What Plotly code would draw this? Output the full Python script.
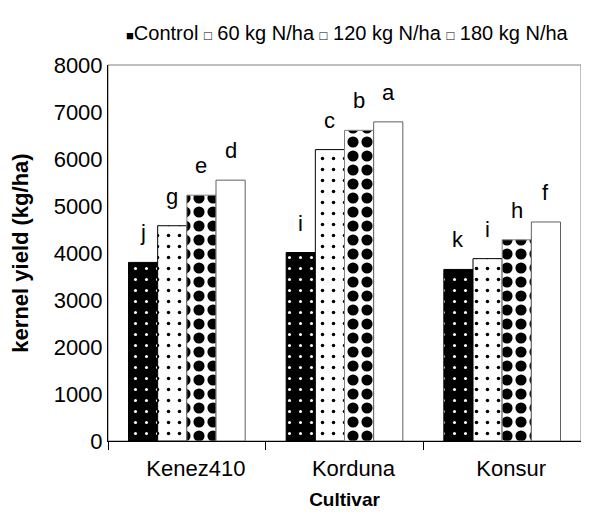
import plotly.graph_objects as go

cultivars = ["Kenez410", "Korduna", "Konsur"]
control = [3800, 4010, 3650]
n60 = [4580, 6200, 3880]
n120 = [5230, 6610, 4280]
n180 = [5550, 6790, 4660]
letters_control = ["j", "i", "k"]
letters_n60 = ["g", "c", "i"]
letters_n120 = ["e", "b", "h"]
letters_n180 = ["d", "a", "f"]
series_names = ["Control", "60 kg N/ha", "120 kg N/ha", "180 kg N/ha"]
legend_marks = ["■", "□", "□", "□"]
y_ticks = [0, 1000, 2000, 3000, 4000, 5000, 6000, 7000, 8000]

FONT = "Liberation Sans, Arial, sans-serif"
BARGAP = 0.26
W, H = 589, 523
ML, MR, MT, MB = 100, 16, 57, 90

fig = go.Figure()
styles = [
    dict(marker=dict(color="black", line=dict(color="black", width=1),
                     pattern=dict(shape=".", bgcolor="black", fgcolor="white", fgopacity=1,
                                  size=11, solidity=0.06))),
    dict(marker=dict(color="white", line=dict(color="black", width=1),
                     pattern=dict(shape=".", bgcolor="white", fgcolor="black", fgopacity=1,
                                  size=11, solidity=0.08))),
    dict(marker=dict(color="white", line=dict(color="#808080", width=1),
                     pattern=dict(shape=".", bgcolor="white", fgcolor="black", fgopacity=1,
                                  size=14, solidity=0.5))),
    dict(marker=dict(color="white", line=dict(color="#606060", width=1))),
]
all_vals = [control, n60, n120, n180]
all_letters = [letters_control, letters_n60, letters_n120, letters_n180]
for name, vals, st in zip(series_names, all_vals, styles):
    fig.add_trace(go.Bar(x=cultivars, y=vals, name=name, showlegend=False, **st))

# letters above bars, positioned from the data through the axes
n_series = len(all_vals)
bw = (1 - BARGAP) / n_series
for s, (vals, labs) in enumerate(zip(all_vals, all_letters)):
    off = -(1 - BARGAP) / 2 + bw * (s + 0.5)
    for i, (v, lab) in enumerate(zip(vals, labs)):
        fig.add_annotation(x=i + off, y=v, text=lab, showarrow=False, xref="x", yref="y",
                           yanchor="bottom", yshift=15,
                           font=dict(family=FONT, size=22, color="black"))

# legend line, drawn as text like the original
parts = []
for k, (mk, nm) in enumerate(zip(legend_marks, series_names)):
    sym = "<span style='font-size:13px'>%s</span>" % mk
    parts.append(sym + ("" if k == 0 else " ") + nm)
legend_text = " ".join(parts)
plot_w = W - ML - MR
plot_h = H - MT - MB
fig.add_annotation(x=(116 - ML) / plot_w, y=(H - MB - 25) / plot_h, xref="paper", yref="paper",
                   text=legend_text, showarrow=False, xanchor="left", yanchor="middle",
                   font=dict(family=FONT, size=20, color="black"))

fig.add_shape(type="rect", xref="paper", yref="paper", x0=0, x1=1, y0=0, y1=1,
              line=dict(color="#808080", width=1), layer="below")

fig.update_layout(
    width=W, height=H,
    margin=dict(l=ML, r=MR, t=MT, b=MB, autoexpand=False),
    plot_bgcolor="white", paper_bgcolor="white",
    barmode="group", bargap=BARGAP, bargroupgap=0,
    font=dict(family=FONT, size=22, color="black"),
    showlegend=False,
    xaxis=dict(showline=True, linecolor="black", linewidth=1, ticks="outside", ticklen=8,
               tickson="boundaries", tickcolor="black", ticklabelshift=9, ticklabelstandoff=8,
               automargin=False,
               title=dict(text="<b>Cultivar</b>", font=dict(size=19), standoff=12),
               tickfont=dict(size=22)),
    yaxis=dict(range=[0, 8000], tickvals=y_ticks, showline=True, linecolor="black", linewidth=1,
               ticks="", showgrid=False, zeroline=False, automargin=False,
               title=dict(text="<b>kernel yield (kg/ha)</b>", font=dict(size=22), standoff=18),
               tickfont=dict(size=22)),
)
fig.write_html("out.html")
